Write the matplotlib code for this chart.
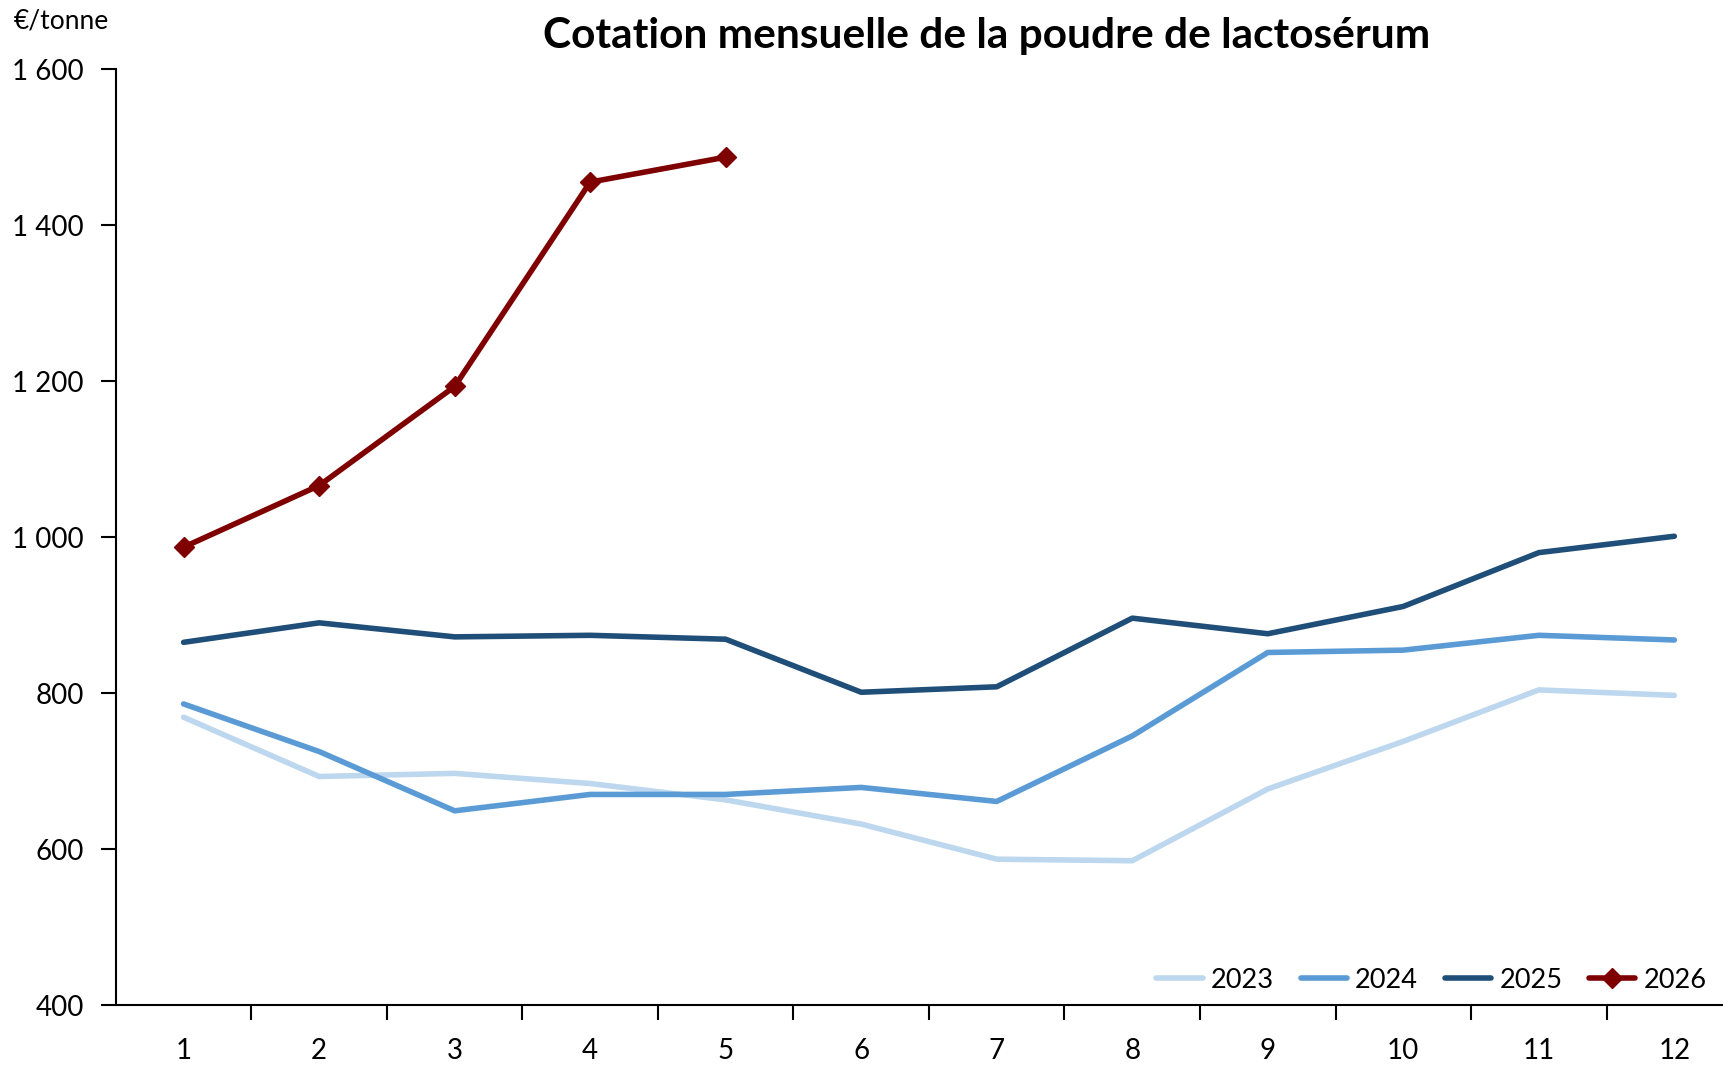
import numpy as np
import matplotlib.pyplot as plt
from matplotlib.ticker import FuncFormatter, FixedLocator

# données (€/tonne)
mois = np.arange(1, 13)
v2023 = [769, 693, 697, 684, 663, 632, 587, 585, 677, 738, 804, 797]
v2024 = [786, 725, 649, 670, 670, 679, 661, 745, 852, 855, 874, 868]
v2025 = [865, 890, 872, 874, 869, 801, 808, 896, 876, 911, 980, 1001]
v2026 = [987, 1066, 1193, 1455, 1487]

plt.rcParams['font.family'] = ['Lato', 'DejaVu Sans']

fig = plt.figure(figsize=(17.24, 10.65), dpi=100)
ax = fig.add_axes([0.0672, 0.0563, 0.9433, 0.8789])

ax.plot(mois, v2023, color='#BDD7EE', lw=4, label='2023', solid_capstyle='round')
ax.plot(mois, v2024, color='#5B9BD5', lw=4, label='2024', solid_capstyle='round')
ax.plot(mois, v2025, color='#1F4E79', lw=4, label='2025', solid_capstyle='round')
ax.plot(mois[:len(v2026)], v2026, color='#7F0000', lw=4, marker='D', ms=10,
        label='2026', solid_capstyle='round')

ax.set_xlim(0.5, 12.5)
ax.set_ylim(400, 1600)
ax.set_yticks(np.arange(400, 1601, 200))
ax.yaxis.set_major_formatter(FuncFormatter(lambda v, p: f"{int(v):,}".replace(',', ' ')))

ax.set_xticks(mois)
ax.xaxis.set_minor_locator(FixedLocator(np.arange(1.5, 12.5, 1)))
ax.tick_params(axis='x', which='major', length=0, pad=24, labelsize=20)
ax.tick_params(axis='x', which='minor', length=11, width=1.5, direction='out')
ax.tick_params(axis='y', length=11, width=1.5, direction='out', labelsize=20, pad=12)

for s in ['top', 'right']:
    ax.spines[s].set_visible(False)
ax.spines['left'].set_linewidth(1.5)
ax.spines['bottom'].set_linewidth(1.5)

fig.text(0.008, 0.98, '€/tonne', fontsize=19, va='center', ha='left')
fig.text(0.572, 0.966, 'Cotation mensuelle de la poudre de lactosérum',
         fontsize=30.5, fontweight='bold', ha='center', va='center')

ax.legend(loc='lower right', bbox_to_anchor=(1.004, 0.045), bbox_transform=fig.transFigure,
          ncol=4, frameon=False, fontsize=19.5, handlelength=1.7, handletextpad=0.3,
          columnspacing=1.0)

fig.savefig('out.png', dpi=100)
